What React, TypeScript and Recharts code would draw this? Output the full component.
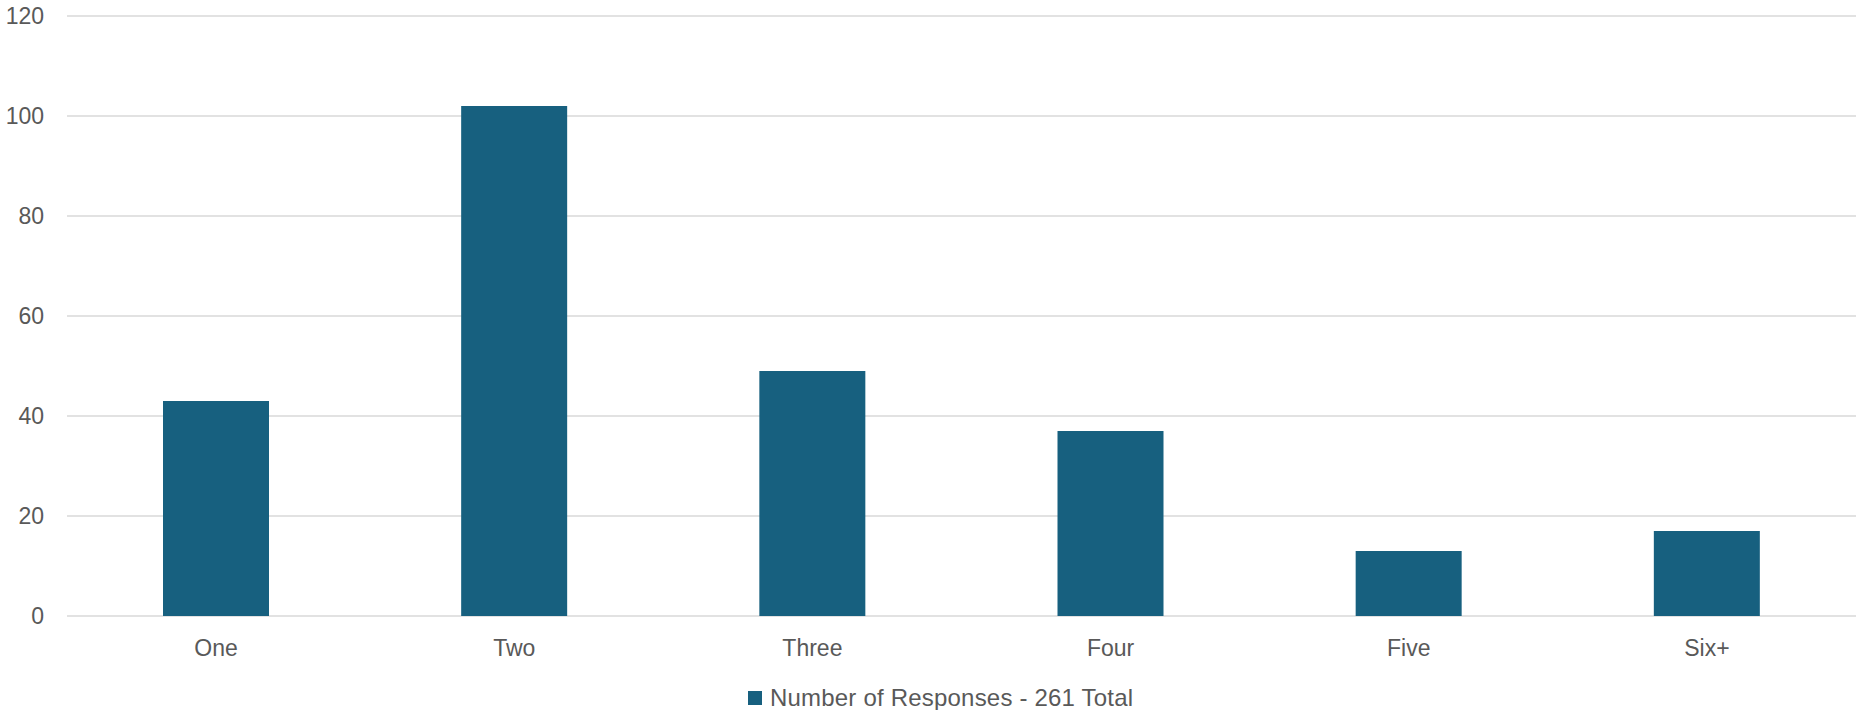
import React from 'react';
import { BarChart, Bar, XAxis, YAxis, CartesianGrid, Legend } from 'recharts';

const categories = ['One', 'Two', 'Three', 'Four', 'Five', 'Six+'];
const responses = [43, 102, 49, 37, 13, 17];
const yTicks = [0, 20, 40, 60, 80, 100, 120];
const seriesName = 'Number of Responses - 261 Total';

const BAR_COLOR = '#17607f';
const TEXT_COLOR = '#595959';
const GRID_COLOR = '#d9d9d9';
const FONT = '"Liberation Sans", Arial, sans-serif';

const data = categories.map((name, i) => ({ name, value: responses[i] }));

function LegendBox() {
  return (
    <div
      style={{
        height: 50,
        display: 'flex',
        justifyContent: 'flex-start',
        alignItems: 'flex-start',
        paddingTop: 26,
        paddingLeft: 748,
        boxSizing: 'border-box',
        fontFamily: FONT,
        fontSize: 24,
        letterSpacing: 0.2,
        color: TEXT_COLOR,
      }}
    >
      <div style={{ display: 'flex', alignItems: 'center', lineHeight: '24px' }}>
        <span style={{ width: 14, height: 14, background: BAR_COLOR, marginRight: 8, display: 'inline-block' }} />
        <span>{seriesName}</span>
      </div>
    </div>
  );
}

export default function App() {
  return (
    <div style={{ position: 'absolute', top: 0, left: 0, width: 1856, height: 710, background: '#fff' }}>
      <BarChart
        width={1856}
        height={710}
        data={data}
        margin={{ top: 16, right: 0, left: 0, bottom: 0 }}
        barCategoryGap={0}
      >
        <CartesianGrid vertical={false} stroke={GRID_COLOR} strokeWidth={1.5} />
        <XAxis
          dataKey="name"
          height={44}
          axisLine={false}
          tickLine={false}
          tickSize={0}
          tickMargin={24}
          tick={{ fill: TEXT_COLOR, fontSize: 23, fontFamily: FONT }}
        />
        <YAxis
          width={67}
          domain={[0, 120]}
          ticks={yTicks}
          axisLine={false}
          tickLine={false}
          tickSize={0}
          tickMargin={23}
          tick={{ fill: TEXT_COLOR, fontSize: 23, fontFamily: FONT }}
        />
        <Legend verticalAlign="bottom" height={50} content={() => <LegendBox />} />
        <Bar dataKey="value" name={seriesName} fill={BAR_COLOR} barSize={106} isAnimationActive={false} />
      </BarChart>
    </div>
  );
}
